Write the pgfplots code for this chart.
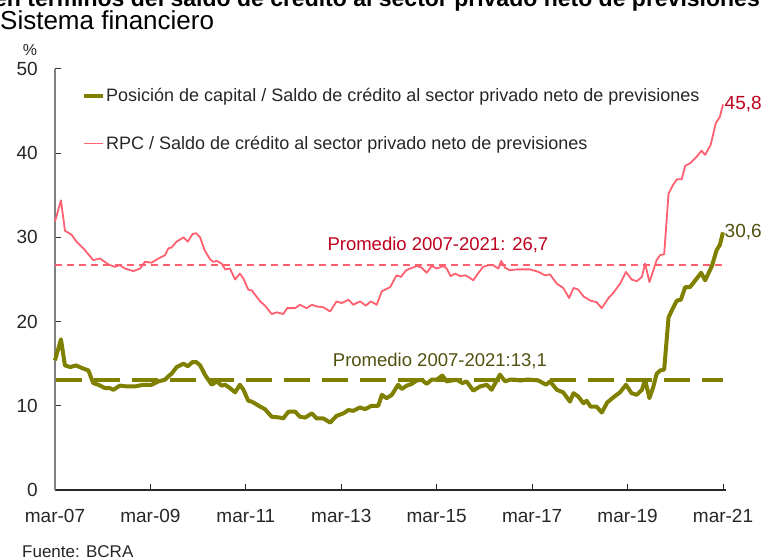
\documentclass[border=0pt]{standalone}
\usepackage{pgfplots}
\pgfplotsset{compat=1.18}
\usepackage{fontspec}
\setmainfont{Liberation Sans}
\definecolor{olive}{RGB}{128,128,0}
\definecolor{pinkl}{RGB}{255,96,112}
\definecolor{redt}{RGB}{190,0,30}
\definecolor{olivet}{RGB}{80,80,15}
\definecolor{txt}{RGB}{38,38,38}
\begin{document}
\begin{tikzpicture}
\begin{axis}[
  width=671pt, height=421pt, scale only axis,
  xmin=0, xmax=168.75, ymin=0, ymax=50,
  clip=false,
  axis x line*=bottom, axis y line*=left,
  x axis line style={-, draw=black!85, line width=1.3pt},
  y axis line style={-, draw=gray, line width=1.3pt},
  xtick={0,24,48,72,96,120,144,168},
  xticklabels={mar-07,mar-09,mar-11,mar-13,mar-15,mar-17,mar-19,mar-21},
  ytick={0,10,20,30,40,50},
  tick align=inside,
  major tick length=6pt,
  x tick style={black!85, line width=1pt},
  y tick style={black!80, line width=1pt},
  /pgf/number format/assume math mode=true,
  tick label style={font=\fontsize{19}{22}\selectfont, text=txt},
  xticklabel style={anchor=north, inner sep=0pt, yshift=-19pt},
  yticklabel style={anchor=east, inner sep=0pt, xshift=-17pt},
  legend style={at={(0.0395,0.958)}, anchor=north west, draw=none, fill=none,
    font=\fontsize{18}{21}\selectfont, text=txt, row sep=30pt, inner sep=0pt,
    nodes={inner sep=1.5pt}},
  legend cell align=left,
  legend image code/.code={\draw[#1] (0pt,0pt) -- (19pt,0pt);},
]
% averages
\addplot[forget plot, pinkl, line width=1.6pt, dash pattern=on 7pt off 5pt] coordinates {(0,26.7) (168,26.7)};
\addplot[forget plot, olive, line width=4pt, dash pattern=on 26pt off 12pt] coordinates {(0.25,13.1) (168,13.1)};
% Posicion de capital
\addplot[olive, line width=4pt, line join=round] coordinates {
(0,15.4) (1.5,17.9) (2.5,14.8) (3.8,14.6) (5.3,14.8) (6.7,14.5) (8.4,14.2) (9.6,12.7) (10.9,12.5) (12.6,12.1)
(13.8,12.1) (14.7,11.9) (16.3,12.4) (18,12.3) (20.1,12.3) (22.2,12.5) (24.3,12.5) (26,12.9) (27.7,13.1) (28.5,13.5)
(29.3,13.8) (30.6,14.6) (32.3,15.0) (33.4,14.7) (34.6,15.2) (35.5,15.2) (36.5,14.8) (37.7,13.7) (39.4,12.5) (40.7,12.9)
(41.9,12.4) (42.8,12.5) (44,12.1) (45.3,11.6) (46.5,12.5) (47.4,11.9) (48.6,10.6) (49.5,10.5) (51.6,9.9) (52.8,9.6)
(54.5,8.7) (56.6,8.6) (57.4,8.5) (58.7,9.3) (60.4,9.3) (61.6,8.7) (62.9,8.6) (64.6,9.1) (65.8,8.5) (67.5,8.5)
(69.2,8.0) (70.8,8.8) (72.5,9.1) (73.8,9.5) (75,9.4) (76.7,9.8) (78,9.6) (79.6,10.0) (81.3,10.0) (82.2,11.3)
(83.4,10.9) (84.7,11.3) (86.3,12.5) (87.2,12.0) (88.5,12.4) (89.7,12.6) (91,13.0) (92.2,13.1) (93.5,12.6) (94.7,13.1)
(96,13.1) (97.4,13.6) (98.5,12.9) (99.8,13.0) (101,13.1) (102.5,12.7) (103.5,12.9) (105.2,11.8) (106.9,12.3) (108.6,12.5)
(109.8,11.9) (111.9,13.7) (113.2,12.9) (114.4,13.1) (115.7,13.1) (117,13.0) (118.6,13.1) (119.5,13.1) (121.6,13.0) (123.5,12.5)
(124.5,12.9) (126.2,11.9) (127.8,11.6) (129.5,10.5) (130.4,11.5) (131.6,11.1) (132.9,10.3) (133.7,10.6) (134.7,9.9) (136.2,9.9)
(137.5,9.2) (138.9,10.4) (140.4,11.0) (142.1,11.6) (143.6,12.5) (145,11.5) (146.3,11.3) (147.6,11.9) (148.4,13.1) (149.5,10.9)
(150.5,12.3) (151.3,13.8) (152.2,14.2) (153.2,14.3) (154.3,20.5) (155.4,21.6) (156.4,22.5) (157.4,22.6) (158.5,24.1) (159.7,24.1)
(161.2,25.0) (162.5,25.8) (163.5,24.9) (165.2,26.6) (166.4,28.5) (167.2,29.1) (168,30.6)
};
\addlegendentry{Posición de capital / Saldo de crédito al sector privado neto de previsiones}
% RPC
\addplot[pinkl, line width=1.8pt, line join=round] coordinates {
(0,31.9) (1.5,34.4) (2.5,30.8) (4.2,30.3) (5.4,29.5) (7.5,28.5) (9.6,27.3) (11.3,27.5) (13.4,26.8) (15,26.5)
(16.3,26.7) (17.6,26.3) (19.7,26.0) (21.4,26.3) (22.6,27.1) (24.3,27.0) (26,27.5) (27.7,27.9) (28.5,28.7) (29.3,28.8)
(30.6,29.5) (32.3,30.0) (33.4,29.5) (34.6,30.4) (35.5,30.5) (36.5,30.0) (37.6,28.5) (39,27.4) (39.8,27.1) (40.7,27.2)
(41.9,26.9) (42.8,26.2) (44,26.3) (45.3,25.0) (46.5,25.7) (47.4,25.1) (48.6,23.8) (49.5,23.7) (51.6,22.4) (52.8,21.9)
(54.5,20.9) (55.8,21.1) (57.4,20.9) (58.4,21.6) (60.4,21.6) (61.6,22.0) (63.3,21.6) (64.6,22.0) (65.8,21.8) (67.5,21.7)
(69.2,21.2) (70.8,22.4) (72.1,22.2) (73.8,22.6) (75,22.0) (76.7,22.4) (78.2,21.9) (79.4,22.4) (80.9,22.0) (82.2,23.6)
(83,23.8) (84.3,24.1) (85.9,25.5) (87,25.3) (88.3,26.1) (89.3,26.3) (91,26.6) (92.2,26.4) (93.5,25.8) (94.7,26.6)
(96,26.3) (97.7,26.6) (98.5,26.3) (99.5,25.4) (100.6,25.7) (101.9,25.4) (103.1,25.5) (104,25.3) (105.2,24.9) (106.5,25.8)
(107.7,26.5) (109,26.7) (110.2,26.7) (111.5,26.3) (112.2,27.2) (113.2,26.4) (114.4,26.1) (116.1,26.2) (117.8,26.2) (119.5,26.2)
(121.6,25.9) (123.2,25.5) (124.5,25.6) (126.2,24.5) (127.8,24.0) (129.3,22.8) (130.4,24.0) (131.6,23.8) (132.9,23.0) (134.6,22.5)
(136.2,22.3) (137.5,21.6) (139.2,22.8) (140.4,23.4) (142.1,24.5) (143.6,25.9) (145,25.0) (146.3,24.8) (147.6,25.3) (148.4,26.9)
(149.5,24.7) (150.5,26.1) (151.3,27.3) (152.2,27.9) (153.2,28.0) (154.3,35.2) (155.4,36.2) (156.4,36.9) (157.6,36.9) (158.5,38.5)
(159.7,38.8) (161.4,39.6) (162.6,40.3) (163.5,39.8) (164.9,41.0) (166.2,43.6) (167.2,44.3) (168,45.8)
};
\addlegendentry{RPC / Saldo de crédito al sector privado neto de previsiones}
% labels
\node[text=redt, font=\fontsize{18.5}{22}\selectfont] at (axis cs:96.3,29.1) {Promedio 2007-2021: 26,7};
\node[text=olivet, font=\fontsize{18.5}{22}\selectfont] at (axis cs:96.8,15.3) {Promedio 2007-2021:13,1};
\node[text=redt, anchor=west, inner sep=1.5pt, font=\fontsize{19}{22}\selectfont] at (axis cs:168,45.8) {45,8};
\node[text=olivet, anchor=west, inner sep=1.5pt, font=\fontsize{19}{22}\selectfont] at (axis cs:168,30.6) {30,6};
\end{axis}
% outer texts
\node[anchor=center, text=txt, font=\fontsize{16}{18}\selectfont] at (-25pt,440pt) {\%};
\node[anchor=base west, inner sep=0pt, text=black, font=\fontsize{26}{29}\selectfont] at (-55pt,460pt) {Sistema financiero};
\node[overlay, anchor=base east, inner sep=0pt, text=black, font=\bfseries\fontsize{23}{26}\selectfont] at (705pt,483pt) {Posición de capital y RPC en términos del saldo de crédito al sector privado neto de previsiones};
\node[anchor=base west, inner sep=0pt, text=txt, font=\fontsize{17}{20}\selectfont] at (-33pt,-67pt) {Fuente: BCRA};
\pgfresetboundingbox
\useasboundingbox (-55pt,-70pt) rectangle (706pt,490pt);
\end{tikzpicture}
\end{document}
